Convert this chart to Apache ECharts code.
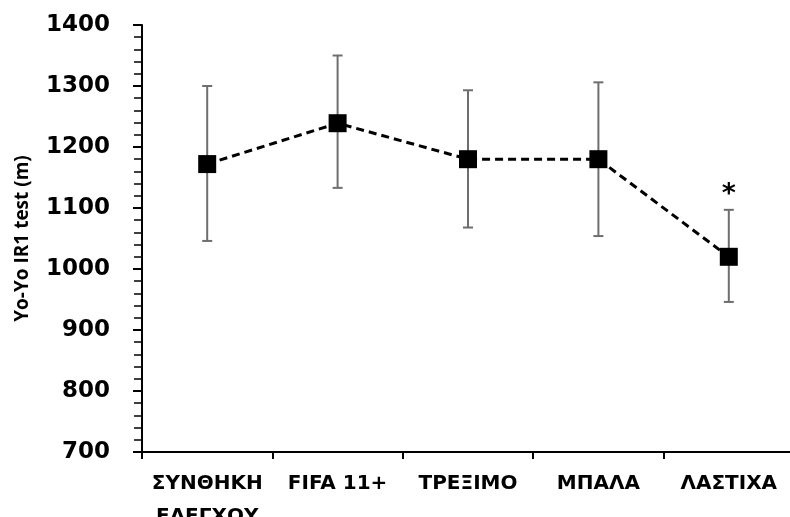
<!DOCTYPE html>
<html>
<head>
<meta charset="utf-8">
<script src="https://cdn.jsdelivr.net/npm/echarts@6/dist/echarts.min.js"></script>
<style>
html,body{margin:0;padding:0;background:#fff;}
#c{width:790px;height:517px;}
</style>
</head>
<body>
<div id="c"></div>
<script>
var categories = ['ΣΥΝΘΗΚΗ\nΕΛΕΓΧΟΥ', 'FIFA 11+', 'ΤΡΕΞΙΜΟ', 'ΜΠΑΛΑ', 'ΛΑΣΤΙΧΑ'];
var means = [1172, 1239, 1180, 1180, 1020];
var upper = [1300, 1350, 1293, 1306, 1097];
var lower = [1046, 1133, 1068, 1054, 946];
var notes = ['', '', '', '', '*'];
var yTicks = [700, 800, 900, 1000, 1100, 1200, 1300, 1400];
var yTitle = 'Yo-Yo IR1 test (m)';

var chart = echarts.init(document.getElementById('c'), null, {renderer: 'canvas'});
var errData = categories.map(function (c, i) { return [i, lower[i], upper[i], notes[i]]; });

chart.setOption({
  animation: false,
  grid: {left: 142, top: 25, width: 652, height: 427, containLabel: false, outerBoundsMode: 'none'},
  xAxis: {
    type: 'category',
    data: categories,
    boundaryGap: true,
    axisLine: {lineStyle: {color: '#000', width: 2}},
    axisTick: {show: true, length: 7, lineStyle: {color: '#000', width: 2}},
    axisLabel: {
      color: '#000', fontFamily: 'DejaVu Sans', fontWeight: 'bold', fontSize: 20,
      margin: 15, lineHeight: 33, interval: 0, verticalAlign: 'top'
    },
    splitLine: {show: false}
  },
  yAxis: {
    type: 'value',
    min: yTicks[0], max: yTicks[yTicks.length - 1], interval: 100,
    name: yTitle,
    nameLocation: 'middle',
    nameGap: 110,
    nameRotate: 90,
    nameTextStyle: {color: '#000', fontFamily: 'Open Sans', fontWeight: 'bold', fontSize: 19},
    axisLine: {show: true, lineStyle: {color: '#000', width: 2}},
    axisTick: {show: true, length: 9, lineStyle: {color: '#000', width: 2}},
    minorTick: {show: true, splitNumber: 5, length: 8, lineStyle: {color: '#000', width: 1.5}},
    axisLabel: {
      color: '#000', fontFamily: 'DejaVu Sans', fontWeight: 'bold', fontSize: 23, margin: 32,
      formatter: function (v) { return String(v); }
    },
    splitLine: {show: false},
    minorSplitLine: {show: false}
  },
  series: [
    {
      type: 'custom',
      z: 1,
      data: errData,
      renderItem: function (params, api) {
        var x = api.value(0);
        var lo = api.coord([x, api.value(1)]);
        var hi = api.coord([x, api.value(2)]);
        var cap = 5;
        var st = {stroke: '#6e6e6e', lineWidth: 2};
        var children = [
          {type: 'line', shape: {x1: hi[0], y1: hi[1], x2: lo[0], y2: lo[1]}, style: st},
          {type: 'line', shape: {x1: hi[0] - cap, y1: hi[1], x2: hi[0] + cap, y2: hi[1]}, style: st},
          {type: 'line', shape: {x1: lo[0] - cap, y1: lo[1], x2: lo[0] + cap, y2: lo[1]}, style: st}
        ];
        var note = api.value(3);
        if (note) {
          children.push({type: 'text', x: hi[0], y: hi[1] - 1,
            style: {text: note, fill: '#000', font: 'bold 27px "DejaVu Sans"', textAlign: 'center', textVerticalAlign: 'bottom'}});
        }
        return {type: 'group', children: children};
      }
    },
    {
      type: 'line',
      z: 3,
      data: means,
      symbol: 'rect',
      symbolSize: 18,
      itemStyle: {color: '#000'},
      lineStyle: {color: '#000', width: 3, type: [8, 5]}
    }
  ]
});
</script>
</body>
</html>
